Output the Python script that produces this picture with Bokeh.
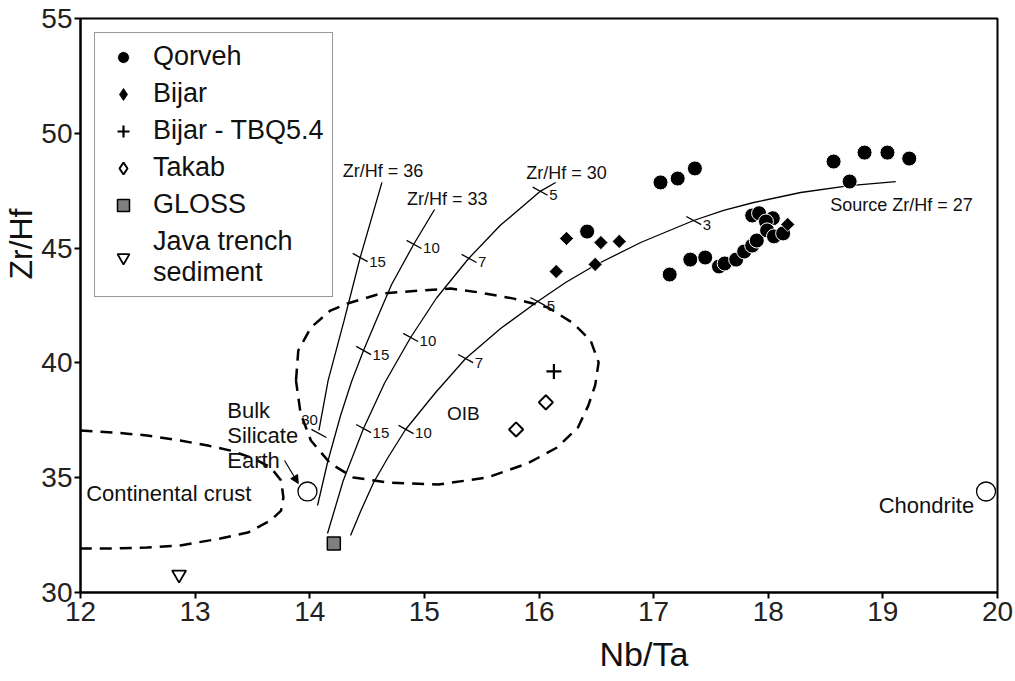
import math
from bokeh.plotting import figure
from bokeh.models import (Legend, LegendItem, Label, Arrow, NormalHead,
                          FixedTicker, Range1d, Title)
from bokeh.core.properties import value
from bokeh.embed import file_html
from bokeh.resources import INLINE

FONT = "Liberation Sans"

# --- sample groups (Nb/Ta, Zr/Hf) ---
qorveh_nbta = [17.06, 17.21, 17.36, 18.57, 18.84, 19.04, 19.23, 18.71, 16.42,
               17.14, 17.32, 17.45, 17.57, 17.62, 17.72, 17.79, 17.86, 17.90,
               17.86, 17.92, 18.04, 17.98, 17.99, 18.05, 18.13]
qorveh_zrhf = [47.86, 48.03, 48.47, 48.77, 49.16, 49.16, 48.90, 47.90, 45.72,
               43.85, 44.50, 44.59, 44.20, 44.33, 44.50, 44.85, 45.11, 45.33,
               46.42, 46.52, 46.30, 46.16, 45.77, 45.51, 45.64]

bijar_nbta = [16.24, 16.15, 16.54, 16.70, 16.49, 18.17]
bijar_zrhf = [45.42, 43.98, 45.24, 45.29, 44.29, 46.03]

tbq_nbta = [16.13]
tbq_zrhf = [39.63]

takab_nbta = [16.06, 15.80]
takab_zrhf = [38.28, 37.10]

gloss_nbta = [14.21]
gloss_zrhf = [32.13]

java_nbta = [12.86]
java_zrhf = [30.78]

# reference reservoirs
bse_nbta, bse_zrhf = [13.98], [34.40]
chondrite_nbta, chondrite_zrhf = [19.90], [34.40]

# --- mixing curves ---
mix36_x = [14.63, 14.44, 14.30, 14.16, 14.08]
mix36_y = [47.86, 44.59, 41.85, 39.23, 37.06]
mix33_x = [15.089, 14.906, 14.714, 14.583, 14.469, 14.365, 14.269, 14.155, 14.068]
mix33_y = [46.682, 45.157, 43.415, 41.890, 40.540, 39.190, 37.709, 35.662, 33.789]
mix30_x = [16.145, 16.014, 15.665, 15.386, 15.106, 14.880, 14.653, 14.469, 14.291, 14.155]
mix30_y = [47.857, 47.483, 46.003, 44.547, 42.827, 41.106, 39.125, 37.143, 34.856, 32.570]
mix27_x = [14.356, 14.443, 14.557, 14.688, 14.836, 15.098, 15.360, 15.665, 15.988,
           16.232, 16.485, 16.887, 17.349, 17.611, 17.873, 18.283, 18.710, 19.112]
mix27_y = [32.483, 33.528, 34.791, 35.923, 37.099, 38.711, 40.192, 41.498, 42.674,
           43.502, 44.242, 45.244, 46.202, 46.638, 46.986, 47.422, 47.718, 47.892]

# percentage marks along the curves
mark_x = [14.44, 14.91, 14.47, 16.01, 15.39, 14.88, 14.47, 17.35, 15.99, 15.36, 14.84]
mark_y = [44.59, 45.16, 40.54, 47.48, 44.55, 41.11, 37.14, 46.20, 42.67, 40.19, 37.10]
mark_lbl = ["15", "10", "15", "5", "7", "10", "15", "3", "5", "7", "10"]
mark30_x, mark30_y, mark30_lbl = [14.08], [36.93], ["30"]

# --- fields ---
oib_x = [13.88, 13.90, 14.01, 14.18, 14.33, 14.62, 14.97, 15.23, 15.49, 15.78,
         16.08, 16.30, 16.45, 16.52, 16.49, 16.43, 16.34, 16.16, 15.90, 15.55,
         15.12, 14.68, 14.38, 14.18, 14.01, 13.92, 13.88]
oib_y = [39.23, 40.54, 41.54, 42.28, 42.59, 43.02, 43.15, 43.24, 43.06, 42.80,
         42.41, 41.72, 40.98, 40.02, 39.02, 38.14, 37.19, 36.32, 35.62, 35.01,
         34.70, 34.79, 35.01, 35.62, 36.62, 37.80, 39.23]
crust_x = [12.00, 12.29, 12.58, 12.87, 13.11, 13.31, 13.51, 13.66, 13.75, 13.77,
           13.75, 13.66, 13.46, 13.22, 12.87, 12.58, 12.29, 12.00]
crust_y = [37.06, 36.97, 36.84, 36.62, 36.40, 36.18, 35.84, 35.44, 34.88, 34.14,
           33.57, 33.14, 32.61, 32.35, 32.05, 31.96, 31.92, 31.92]

x_ticks = [12, 13, 14, 15, 16, 17, 18, 19, 20]
y_ticks = [30, 35, 40, 45, 50, 55]

p = figure(frame_width=917, frame_height=574, output_backend="svg",
           toolbar_location=None, x_range=Range1d(12, 20), y_range=Range1d(30, 55),
           min_border_left=80, min_border_right=18, min_border_top=18,
           min_border_bottom=89, background_fill_color="white",
           border_fill_color="white")
p.grid.visible = False
p.outline_line_color = "black"
p.outline_line_width = 2
p.outline_line_alpha = 1

for ax, ticks in ((p.xaxis[0], x_ticks), (p.yaxis[0], y_ticks)):
    ax.ticker = FixedTicker(ticks=ticks)
    ax.minor_tick_line_color = None
    ax.major_tick_in = 0
    ax.major_tick_out = 6
    ax.major_tick_line_width = 2
    ax.axis_line_width = 2
    ax.major_label_text_font = FONT
    ax.major_label_text_color = "#222"
p.xaxis.major_label_text_font_size = "28px"
p.yaxis.major_label_text_font_size = "28px"
p.xaxis.major_label_standoff = 3
p.yaxis.major_label_standoff = 2

# axis titles, placed off-centre along each axis
p.add_layout(Title(text="Nb/Ta", align="left", offset=519, standoff=22,
                   vertical_align="top", text_font=FONT, text_font_size="34px",
                   text_font_style="normal", text_color="#111"), "below")
p.add_layout(Title(text="Zr/Hf", align="right", offset=190, standoff=0,
                   vertical_align="bottom", text_font=FONT, text_font_size="32px",
                   text_font_style="normal", text_color="#111"), "left")

# fields
p.line(crust_x, crust_y, line_color="black", line_width=2.5, line_dash="12 8")
p.line(oib_x, oib_y, line_color="black", line_width=2.5, line_dash="12 8")

# mixing curves
for cx, cy in ((mix36_x, mix36_y), (mix33_x, mix33_y), (mix30_x, mix30_y), (mix27_x, mix27_y)):
    p.line(cx, cy, line_color="black", line_width=1.3)

p.scatter(mark_x + mark30_x, mark_y + mark30_y, marker="dash", size=17,
          angle=-0.5, line_color="black", line_width=1.3)
p.text(mark_x, mark_y, text=mark_lbl, x_offset=9, y_offset=4,
       text_font=value(FONT), text_font_size="15px", text_align="left",
       text_baseline="middle", text_color="#111")
p.text(mark30_x, mark30_y, text=mark30_lbl, x_offset=-1, y_offset=-13,
       text_font=value(FONT), text_font_size="15px", text_align="right",
       text_baseline="middle", text_color="#111")

# reservoirs
p.scatter(bse_nbta, bse_zrhf, marker="circle", size=19, fill_color="white",
          line_color="black", line_width=1.3)
p.scatter(chondrite_nbta, chondrite_zrhf, marker="circle", size=19, fill_color="white",
          line_color="black", line_width=1.3)

# samples
r_q = p.scatter(qorveh_nbta, qorveh_zrhf, marker="circle", size=15, fill_color="black",
                line_color="white", line_width=1)

# diamond symbols: a small upright diamond (used as the legend key) sits under
# a square turned by 45 degrees, which gives the equal-sided diamond in the plot
r_b = p.scatter(bijar_nbta, bijar_zrhf, marker="diamond", size=6, fill_color="black",
                line_color="black", line_width=0.8)
p.scatter(bijar_nbta, bijar_zrhf, marker="square", angle=math.pi / 4, size=10,
          fill_color="black", line_color="white", line_width=0.8)
r_t = p.scatter(tbq_nbta, tbq_zrhf, marker="cross", size=15, line_color="black",
                line_width=2.2)
r_k = p.scatter(takab_nbta, takab_zrhf, marker="diamond", size=6, fill_color="white",
                line_color="black", line_width=2)
p.scatter(takab_nbta, takab_zrhf, marker="square", angle=math.pi / 4, size=10,
          fill_color="white", line_color="black", line_width=2)
r_g = p.scatter(gloss_nbta, gloss_zrhf, marker="square", size=13, fill_color="#7f7f7f",
                line_color="black", line_width=1.5)
r_j = p.scatter(java_nbta, java_zrhf, marker="inverted_triangle", size=14,
                fill_color="white", line_color="black", line_width=1.8)

# annotation texts
def note(x, y, txt, size, align="left"):
    p.add_layout(Label(x=x, y=y, text=txt, text_font=FONT, text_font_size=size,
                       text_align=align, text_baseline="middle", text_color="#111"))

note(14.64, 48.34, "Zr/Hf = 36", "18px", "center")
note(15.20, 47.16, "Zr/Hf = 33", "18px", "center")
note(16.24, 48.29, "Zr/Hf = 30", "18px", "center")
note(18.54, 46.86, "Source Zr/Hf = 27", "18px")
note(15.34, 37.80, "OIB", "19px", "center")
note(13.28, 37.93, "Bulk", "22px")
note(13.28, 36.84, "Silicate", "22px")
note(13.28, 35.75, "Earth", "22px")
note(12.05, 34.31, "Continental crust", "22px")
note(19.38, 33.79, "Chondrite", "22px", "center")

p.add_layout(Arrow(x_start=13.78, y_start=35.75, x_end=13.90, y_end=34.75,
                   line_color="black", line_width=1.2,
                   end=NormalHead(size=8, fill_color="black", line_color="black")))

legend = Legend(items=[
    LegendItem(label="Qorveh", renderers=[r_q]),
    LegendItem(label="Bijar", renderers=[r_b]),
    LegendItem(label="Bijar - TBQ5.4", renderers=[r_t]),
    LegendItem(label="Takab", renderers=[r_k]),
    LegendItem(label="GLOSS", renderers=[r_g]),
    LegendItem(label="Java trench\nsediment", renderers=[r_j]),
], location="top_left")
legend.margin = 14
legend.padding = 8
legend.spacing = 6
legend.glyph_width = 40
legend.glyph_height = 30
legend.label_height = 30
legend.label_standoff = 10
legend.label_text_font = FONT
legend.label_text_font_size = "27px"
legend.label_text_line_height = 0.8
legend.label_text_color = "#111"
legend.border_line_color = "#333"
legend.border_line_width = 1.5
legend.background_fill_alpha = 1
p.add_layout(legend)

open("out.html", "w").write(file_html(p, INLINE))
